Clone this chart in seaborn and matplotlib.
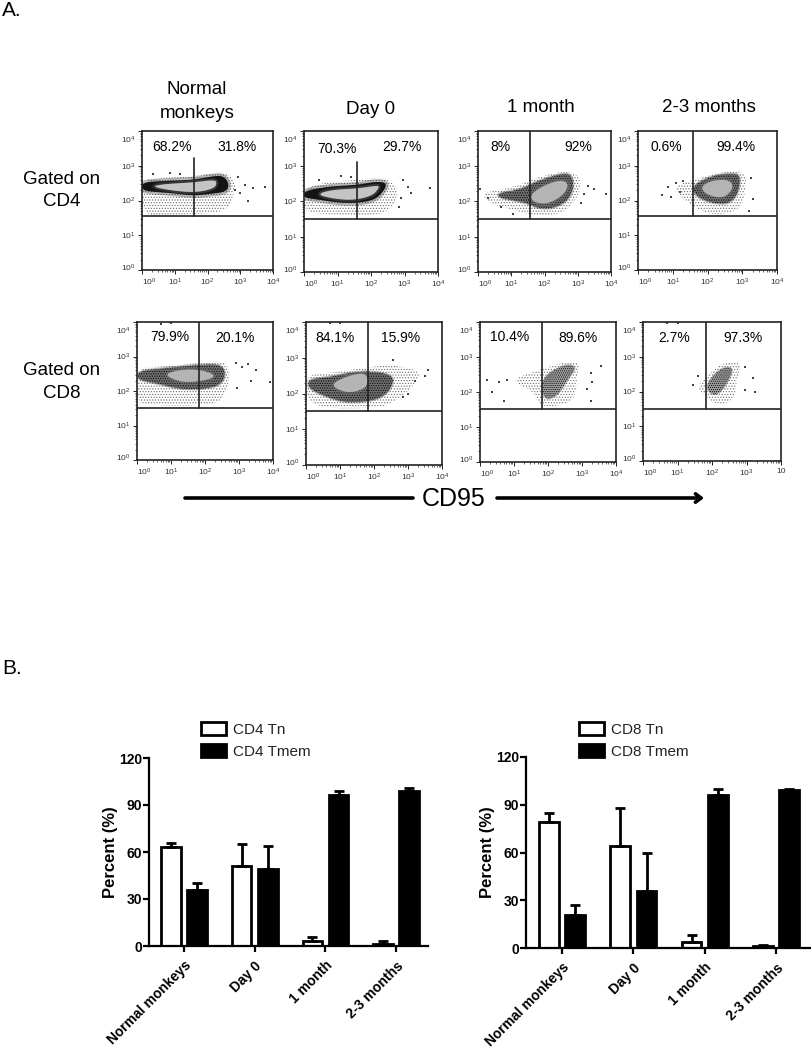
import numpy as np
import pandas as pd
import matplotlib
matplotlib.use("Agg")
import matplotlib.pyplot as plt
import matplotlib.patheffects as pe
from matplotlib.lines import Line2D
from matplotlib.patches import FancyArrowPatch
from matplotlib.ticker import FixedLocator, NullFormatter
from matplotlib.transforms import ScaledTranslation
import seaborn as sns

# bar chart values (panel B)
groups = ["Normal monkeys", "Day 0", "1 month", "2-3 months"]
cd4_tn = [63, 51, 3, 1]
cd4_tn_err = [3, 14, 3, 2]
cd4_tmem = [36, 49, 96.5, 99]
cd4_tmem_err = [4, 15, 2.5, 2]
cd8_tn = [79, 64, 4, 1]
cd8_tn_err = [6, 24, 4, 1]
cd8_tmem = [21, 36, 96, 99]
cd8_tmem_err = [6, 24, 4, 1]

# gate percentages (panel A)
cd4_pct = [("68.2%", "31.8%"), ("70.3%", "29.7%"), ("8%", "92%"), ("0.6%", "99.4%")]
cd8_pct = [("79.9%", "20.1%"), ("84.1%", "15.9%"), ("10.4%", "89.6%"), ("2.7%", "97.3%")]

# gates in log10 units: vertical x, horizontal y, top of the vertical line
cd4_gate_x = [1.58, 1.57, 1.57, 1.57]
cd4_gate_y = [1.55, 1.51, 1.51, 1.54]
cd4_gate_top = [3.21, 3.13, 4, 4]
cd8_gate_x = [1.83, 1.82, 1.82, 1.83]
cd8_gate_y = [1.51, 1.51, 1.51, 1.51]
cd8_gate_top = [4, 4, 4, 4]

# cloud outlines, log10 units (x, y)
cd4_normal_outer = [(0, 2.59), (.65, 2.66), (1.56, 2.69), (2.17, 2.81), (2.58, 2.78), (2.88, 2.54), (2.78, 2.11), (2.68, 1.82), (2.27, 1.63), (.65, 1.58), (.04, 1.58)]
cd4_normal_ring = [(0, 2.52), (.65, 2.56), (1.56, 2.59), (2.17, 2.70), (2.48, 2.71), (2.66, 2.49), (2.58, 2.25), (2.07, 2.19), (1.56, 2.14), (.95, 2.21), (.35, 2.25), (0, 2.30)]
cd4_normal_core = [(.29, 2.40), (.65, 2.47), (1.56, 2.52), (2.17, 2.59), (2.29, 2.54), (2.22, 2.35), (1.66, 2.23), (.95, 2.28)]

cd4_day0_outer = [(0, 2.37), (.72, 2.56), (1.61, 2.61), (2.31, 2.70), (2.76, 2.47), (2.81, 2.14), (2.51, 1.71), (2.01, 1.60), (.32, 1.64), (0, 1.81)]
cd4_day0_ring = [(0, 2.30), (.72, 2.42), (1.61, 2.47), (2.11, 2.56), (2.46, 2.54), (2.41, 2.33), (2.11, 2.04), (1.51, 1.95), (.92, 1.98), (.32, 2.07), (0, 2.11)]
cd4_day0_core = [(.37, 2.20), (.82, 2.33), (1.61, 2.37), (2.16, 2.45), (2.26, 2.42), (2.06, 2.17), (1.51, 2.04), (.92, 2.07)]

cd4_1m_outer = [(.10, 2.23), (.65, 2.33), (1.26, 2.47), (1.81, 2.70), (2.47, 2.85), (2.97, 2.80), (3.12, 2.47), (2.92, 2.0), (2.57, 1.69), (2.07, 1.60), (1.61, 1.62), (1.06, 1.76), (.35, 1.95)]
cd4_1m_ring = [(.60, 2.23), (1.26, 2.33), (1.76, 2.56), (2.37, 2.75), (2.77, 2.80), (2.89, 2.47), (2.72, 2.04), (2.27, 1.81), (1.81, 1.81), (1.51, 1.95), (1.06, 2.04), (.65, 2.11)]
cd4_1m_core = [(1.61, 2.23), (2.02, 2.47), (2.47, 2.61), (2.72, 2.52), (2.62, 2.23), (2.17, 1.95), (1.81, 1.95), (1.61, 2.04)]

cd4_3m_outer = [(1.02, 2.40), (1.55, 2.59), (2.08, 2.73), (2.65, 2.85), (3.13, 2.78), (3.08, 2.35), (3.03, 1.87), (2.65, 1.63), (2.08, 1.60), (1.69, 1.77), (1.22, 2.11)]
cd4_3m_ring = [(1.55, 2.40), (2.08, 2.69), (2.65, 2.78), (2.94, 2.73), (2.89, 2.25), (2.65, 1.92), (2.17, 1.92), (1.69, 2.11)]
cd4_3m_core = [(1.79, 2.40), (2.17, 2.59), (2.65, 2.59), (2.75, 2.35), (2.46, 2.06), (1.98, 2.16)]

cd8_normal_outer = [(0, 2.67), (.77, 2.71), (1.75, 2.81), (2.59, 2.88), (2.74, 2.52), (2.64, 1.99), (2.34, 1.58), (.18, 1.58), (0, 1.80)]
cd8_normal_ring = [(.03, 2.57), (.77, 2.65), (1.85, 2.76), (2.54, 2.76), (2.59, 2.33), (2.25, 2.09), (1.36, 2.04), (.57, 2.23), (.03, 2.33)]
cd8_normal_core = [(.77, 2.47), (1.26, 2.62), (1.85, 2.62), (2.30, 2.47), (2.15, 2.33), (1.36, 2.23)]

cd8_day0_outer = [(0, 2.53), (.67, 2.57), (1.64, 2.71), (2.52, 2.81), (3.45, 2.62), (3.11, 2.15), (2.62, 1.78), (2.13, 1.59), (.47, 1.58), (0, 1.87)]
cd8_day0_ring = [(.08, 2.39), (.67, 2.45), (1.64, 2.64), (2.57, 2.53), (2.52, 2.15), (2.13, 1.83), (1.25, 1.73), (.57, 1.92), (.08, 2.15)]
cd8_day0_core = [(.76, 2.29), (1.35, 2.53), (1.79, 2.57), (1.84, 2.20), (1.35, 2.01), (.91, 2.11)]

cd8_1m_outer = [(1.03, 2.40), (1.77, 2.64), (2.56, 2.88), (2.95, 2.83), (2.85, 2.45), (2.80, 1.78), (2.26, 1.59), (1.77, 1.59), (1.52, 2.07), (1.08, 2.21)]
cd8_1m_ring = [(1.82, 2.40), (2.46, 2.78), (2.85, 2.73), (2.56, 2.35), (2.26, 1.88), (1.87, 1.78)]

cd8_3m_outer = [(1.57, 2.13), (1.86, 2.47), (2.34, 2.85), (2.87, 2.85), (2.72, 2.32), (2.63, 1.75), (2.14, 1.60), (1.76, 1.89)]
cd8_3m_ring = [(1.86, 2.23), (2.24, 2.66), (2.63, 2.70), (2.43, 2.23), (2.14, 1.89), (1.90, 1.99)]

# stray events outside the clouds, log10 units
cd4_normal_dots = [(2.93, 2.69), (3.14, 2.45), (3.39, 2.35), (3.75, 2.40), (3.24, 1.99), (2.83, 2.30), (2.98, 2.21), (.35, 2.75), (.85, 2.78), (1.16, 2.75)]
cd4_day0_dots = [(2.95, 2.60), (3.10, 2.40), (3.20, 2.25), (3.75, 2.38), (2.90, 2.10), (.45, 2.62), (1.10, 2.72), (1.40, 2.70), (2.85, 1.85)]
cd4_1m_dots = [(3.30, 2.45), (3.50, 2.35), (3.85, 2.20), (3.20, 2.20), (.05, 2.35), (.30, 2.10), (.70, 1.85), (1.05, 1.65), (3.10, 1.95)]
cd4_3m_dots = [(.70, 2.15), (.95, 2.10), (1.10, 2.50), (1.30, 2.55), (.85, 2.40), (1.20, 2.25), (3.25, 2.65), (3.30, 2.05), (3.20, 1.70)]
cd8_normal_dots = [(2.90, 2.80), (3.10, 2.70), (3.25, 2.78), (3.50, 2.62), (3.35, 2.30), (3.90, 2.25), (2.95, 2.10), (.70, 3.95), (1.00, 3.97)]
cd8_day0_dots = [(3.60, 2.65), (3.50, 2.50), (3.20, 2.35), (3.00, 2.00), (2.85, 1.90), (.70, 3.97), (1.00, 3.98), (2.55, 2.95)]
cd8_1m_dots = [(.20, 2.35), (.55, 2.30), (.80, 2.35), (.35, 2.00), (.70, 1.75), (3.55, 2.75), (3.25, 2.55), (3.30, 2.30), (3.25, 1.75), (3.15, 2.10)]
cd8_3m_dots = [(1.45, 2.20), (1.60, 2.45), (3.20, 2.40), (3.25, 2.00), (2.95, 2.05), (.70, 3.98), (1.00, 3.97), (2.95, 2.70)]

sns.set_theme(style="white", rc={"hatch.linewidth": 0.5})
plt.rcParams["font.family"] = ["Liberation Sans", "DejaVu Sans"]
plt.rcParams["mathtext.default"] = "regular"

W, H = 811, 1050
fig = plt.figure(figsize=(W / 100, H / 100), dpi=100)

# looks of the cloud layers: ring fill, ring hatch, core fill, soft edge width
DENSE = ("#141414", None, "#c4c4c4", 4)
MOTTLED = ("#6e6e6e", ".......", "#b4b4b4", 2)
SPECKLE = ("#a0a0a0", "........", None, 1.5)


def axes_px(left, right, top, bottom):
    return fig.add_axes([left / W, 1 - bottom / H, (right - left) / W, (bottom - top) / H])


def text_px(x, y, s, **kw):
    fig.text(x / W, 1 - y / H, s, ha=kw.pop("ha", "center"), va="center", color="black", **kw)


def round_corners(pts):
    # corner cutting so the outlines are not drawn as hard polygons
    arr = np.array(pts, dtype=float)
    for _ in range(2):
        nxt = np.roll(arr, -1, axis=0)
        arr = np.column_stack([0.75 * arr + 0.25 * nxt, 0.25 * arr + 0.75 * nxt]).reshape(-1, 2)
    return arr


def draw_shape(ax, pts, soft=0, soft_color="black", **kw):
    arr = round_corners(pts)
    patches = ax.fill(10 ** arr[:, 0], 10 ** arr[:, 1], **kw)
    if soft:
        patches[0].set_path_effects([pe.Stroke(linewidth=soft, foreground=soft_color, alpha=0.35), pe.Normal()])


def flow_panel(box, outer, ring, core, dots, gate_x, gate_y, gate_top, look, last_label=r"$10^{4}$"):
    ax = axes_px(*box)
    ax.set_xscale("log")
    ax.set_yscale("log")
    ax.set_xlim(1, 1e4)
    ax.set_ylim(1, 1e4)
    ring_fill, ring_hatch, core_fill, soft = look
    draw_shape(ax, outer, facecolor="white", edgecolor="#666666", hatch="......", lw=0)
    draw_shape(ax, ring, soft=soft, soft_color="#333333", facecolor=ring_fill, edgecolor="black", hatch=ring_hatch, lw=0)
    if core is not None and core_fill is not None:
        draw_shape(ax, core, soft=3, soft_color="#777777", facecolor=core_fill, lw=0)
    d = np.array(dots)
    sns.scatterplot(x=10 ** d[:, 0], y=10 ** d[:, 1], ax=ax, s=1, color="#444444", marker="s", linewidth=0, legend=False)
    ax.plot([10 ** gate_x, 10 ** gate_x], [10 ** gate_y, 10 ** gate_top], color="#222222", lw=1.2)
    ax.axhline(10 ** gate_y, color="#222222", lw=1.2)
    for s in ax.spines.values():
        s.set_linewidth(1.2)
        s.set_color("#222222")
    major = [1, 10, 100, 1000, 10000]
    ax.xaxis.set_major_locator(FixedLocator(major))
    ax.yaxis.set_major_locator(FixedLocator(major))
    labels = [r"$10^{%d}$" % i for i in range(5)]
    ax.set_yticklabels(labels)
    ax.set_xticklabels(labels[:4] + [last_label])
    ax.xaxis.set_minor_formatter(NullFormatter())
    ax.yaxis.set_minor_formatter(NullFormatter())
    ax.tick_params(which="major", bottom=True, left=True, length=3, width=0.7, color="#222222",
                   labelsize=6, labelcolor="#333333", pad=2)
    ax.tick_params(which="minor", bottom=True, left=True, length=1.5, width=0.5, color="#222222")
    # the first and last labels sit off their ticks in the original
    first_x = ax.get_xticklabels()[0]
    first_x.set_transform(first_x.get_transform() + ScaledTranslation(7 / 100, 0, fig.dpi_scale_trans))
    first_y = ax.get_yticklabels()[0]
    first_y.set_transform(first_y.get_transform() + ScaledTranslation(0, 3 / 100, fig.dpi_scale_trans))
    last_y = ax.get_yticklabels()[-1]
    last_y.set_transform(last_y.get_transform() + ScaledTranslation(0, -8 / 100, fig.dpi_scale_trans))
    return ax


flow_panel((142, 273, 131, 270), cd4_normal_outer, cd4_normal_ring, cd4_normal_core, cd4_normal_dots, cd4_gate_x[0], cd4_gate_y[0], cd4_gate_top[0], DENSE)
flow_panel((304, 438, 131, 272), cd4_day0_outer, cd4_day0_ring, cd4_day0_core, cd4_day0_dots, cd4_gate_x[1], cd4_gate_y[1], cd4_gate_top[1], DENSE)
flow_panel((478, 611, 131, 272), cd4_1m_outer, cd4_1m_ring, cd4_1m_core, cd4_1m_dots, cd4_gate_x[2], cd4_gate_y[2], cd4_gate_top[2], MOTTLED)
flow_panel((638, 777, 131, 270), cd4_3m_outer, cd4_3m_ring, cd4_3m_core, cd4_3m_dots, cd4_gate_x[3], cd4_gate_y[3], cd4_gate_top[3], MOTTLED)
flow_panel((137, 273, 322, 460), cd8_normal_outer, cd8_normal_ring, cd8_normal_core, cd8_normal_dots, cd8_gate_x[0], cd8_gate_y[0], cd8_gate_top[0], MOTTLED)
flow_panel((306, 442, 322, 465), cd8_day0_outer, cd8_day0_ring, cd8_day0_core, cd8_day0_dots, cd8_gate_x[1], cd8_gate_y[1], cd8_gate_top[1], MOTTLED)
flow_panel((480, 616, 322, 462), cd8_1m_outer, cd8_1m_ring, None, cd8_1m_dots, cd8_gate_x[2], cd8_gate_y[2], cd8_gate_top[2], SPECKLE)
flow_panel((643, 781, 322, 461), cd8_3m_outer, cd8_3m_ring, None, cd8_3m_dots, cd8_gate_x[3], cd8_gate_y[3], cd8_gate_top[3], SPECKLE, last_label="10")

# percent labels
cd4_pct_xy = [((172, 147), (237, 147)), ((337, 149), (402, 147)), ((500, 147), (578, 147)), ((666, 147), (736, 147))]
cd8_pct_xy = [((170, 337), (235, 338)), ((335, 338), (401, 338)), ((510, 337), (578, 338)), ((674, 338), (743, 338))]
for labs, xys in [(cd4_pct, cd4_pct_xy), (cd8_pct, cd8_pct_xy)]:
    for pair, xy in zip(labs, xys):
        for s, (x, y) in zip(pair, xy):
            text_px(x, y, s, fontsize=10)

text_px(2, 11, "A.", fontsize=15, ha="left")
text_px(2, 668, "B.", fontsize=15, ha="left")
text_px(197, 90, "Normal", fontsize=13.5)
text_px(197, 113, "monkeys", fontsize=13.5)
text_px(371, 110, "Day 0", fontsize=13.5)
text_px(541, 108, "1 month", fontsize=13.5)
text_px(709, 108, "2-3 months", fontsize=13.5)
text_px(62, 179, "Gated on", fontsize=13.5)
text_px(62, 202, "CD4", fontsize=13.5)
text_px(62, 370, "Gated on", fontsize=13.5)
text_px(62, 393, "CD8", fontsize=13.5)
text_px(454, 499, "CD95", fontsize=18)

# CD95 arrow, split by the label
fig.add_artist(Line2D([185 / W, 413 / W], [1 - 498 / H, 1 - 498 / H], color="black", lw=2.6))
fig.add_artist(FancyArrowPatch((497 / W, 1 - 498 / H), (704 / W, 1 - 498 / H), transform=fig.transFigure,
                               arrowstyle="->,head_length=4,head_width=3", color="black", lw=2.6,
                               shrinkA=0, shrinkB=0))


def bar_panel(box, tn, tn_err, tmem, tmem_err, tn_name, tmem_name, xlim, legend_xy):
    ax = axes_px(*box)
    df = pd.DataFrame({
        "group": groups * 2,
        "cell": [tn_name] * 4 + [tmem_name] * 4,
        "value": list(tn) + list(tmem),
    })
    sns.barplot(data=df, x="group", y="value", hue="cell", hue_order=[tn_name, tmem_name],
                palette={tn_name: "white", tmem_name: "black"}, width=0.74, gap=0.25, saturation=1,
                edgecolor="black", linewidth=2, errorbar=None, ax=ax)
    for cont, vals, errs in zip(ax.containers, [tn, tmem], [tn_err, tmem_err]):
        xs = [p.get_x() + p.get_width() / 2 for p in cont.patches]
        ax.errorbar(xs, vals, yerr=[np.zeros(4), errs], fmt="none", ecolor="black", elinewidth=2,
                    capsize=3.6, capthick=2, zorder=1)
    ax.set_xlim(*xlim)
    ax.set_ylim(0, 120)
    ax.set_yticks([0, 30, 60, 90, 120])
    ax.set_xlabel("")
    ax.set_ylabel("Percent (%)", fontsize=12, fontweight="bold", labelpad=1, color="black")
    sns.despine(ax=ax)
    for s in ["left", "bottom"]:
        ax.spines[s].set_linewidth(1.6)
        ax.spines[s].set_color("black")
    ax.tick_params(axis="both", length=4, width=1.6, color="black", bottom=True, left=True, labelcolor="black")
    ax.tick_params(axis="y", labelsize=10, pad=1)
    ax.tick_params(axis="x", labelsize=10, pad=5)
    for t in ax.get_yticklabels():
        t.set_fontweight("bold")
    for t in ax.get_xticklabels():
        t.set_rotation(45)
        t.set_ha("right")
        t.set_rotation_mode("anchor")
        t.set_fontweight("bold")
    sns.move_legend(ax, "upper left", bbox_to_anchor=(legend_xy[0] / W, 1 - legend_xy[1] / H),
                    bbox_transform=fig.transFigure, title=None, frameon=False, fontsize=11,
                    handlelength=1.65, handleheight=0.9, handletextpad=0.45, labelspacing=0.5,
                    borderpad=0, borderaxespad=0, labelcolor="#222222")
    return ax


bar_panel((149, 428, 758, 946), cd4_tn, cd4_tn_err, cd4_tmem, cd4_tmem_err, "CD4 Tn", "CD4 Tmem", (-0.495, 3.45), (201, 722))
bar_panel((526, 811, 757, 948), cd8_tn, cd8_tn_err, cd8_tmem, cd8_tmem_err, "CD8 Tn", "CD8 Tmem", (-0.505, 3.49), (579, 722))

fig.savefig("out.png", dpi=100)
